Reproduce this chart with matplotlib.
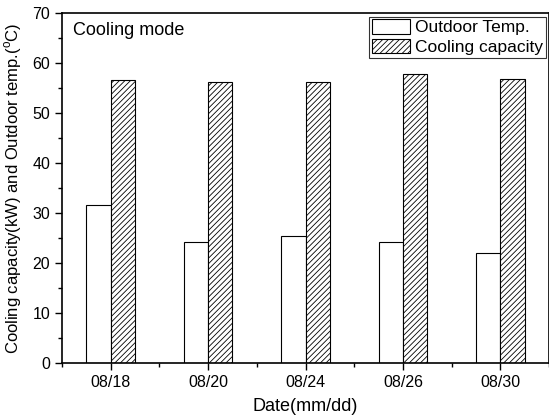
import numpy as np
import matplotlib
matplotlib.use('Agg')
import matplotlib.pyplot as plt
from matplotlib.ticker import MultipleLocator

plt.rcParams['font.family'] = 'Liberation Sans'
plt.rcParams['mathtext.fontset'] = 'custom'
plt.rcParams['mathtext.rm'] = 'Liberation Sans'
plt.rcParams['hatch.linewidth'] = 0.6

dates = ['08/18', '08/20', '08/24', '08/26', '08/30']
outdoor = [31.6, 24.1, 25.4, 24.2, 22.0]
cooling = [56.6, 56.2, 56.1, 57.7, 56.7]

x = np.arange(len(dates))
w = 0.25

fig = plt.figure(figsize=(5.49, 4.19), dpi=100)
ax = fig.add_axes([62/549, 1 - 363/419, 487/549, 350/419])

ax.bar(x - w/2, outdoor, w, color='white', edgecolor='black', linewidth=0.8,
       label='Outdoor Temp.')
ax.bar(x + w/2, cooling, w, color='white', edgecolor='black', linewidth=0.8,
       hatch='//////', label='Cooling capacity')

ax.set_xlim(-0.5, 4.5)
ax.set_ylim(0, 70)
ax.set_xticks(x)
ax.set_xticklabels(dates)
ax.xaxis.set_minor_locator(MultipleLocator(0.5))
ax.yaxis.set_major_locator(MultipleLocator(10))
ax.yaxis.set_minor_locator(MultipleLocator(5))
ax.tick_params(which='both', direction='out', top=False, right=False,
               labelsize=11.5, width=1.0)
ax.tick_params(which='major', length=5)
ax.tick_params(which='minor', length=3)
for s in ax.spines.values():
    s.set_linewidth(1.2)

ax.set_xlabel('Date(mm/dd)', fontsize=13, labelpad=6)
ax.set_ylabel(r'Cooling capacity(kW) and Outdoor temp.($^\mathrm{o}$C)', fontsize=12,
              labelpad=6)
ax.text(0.022, 0.975, 'Cooling mode', transform=ax.transAxes, fontsize=13,
        va='top', ha='left')

leg = ax.legend(loc='upper right', fontsize=12.5, frameon=True, fancybox=False,
                edgecolor='black', borderpad=0.15, labelspacing=0.2,
                handlelength=2.2, handleheight=0.9, handletextpad=0.3,
                borderaxespad=0.0, bbox_to_anchor=(0.993, 0.99))
leg.get_frame().set_linewidth(0.8)

fig.savefig('out.png', dpi=100)
